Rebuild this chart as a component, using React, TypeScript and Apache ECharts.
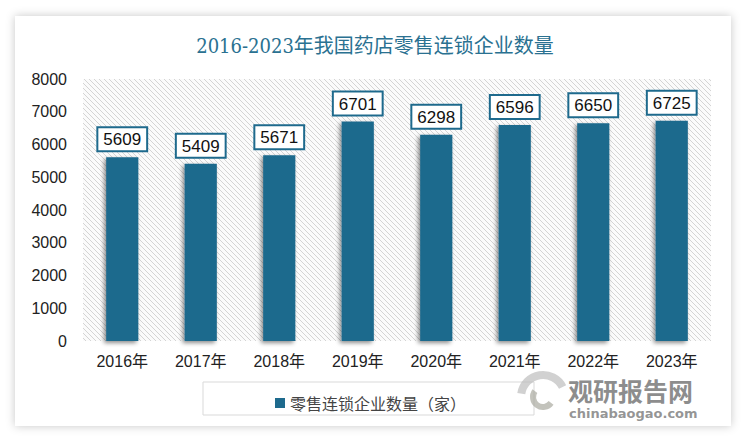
import React, { useEffect, useRef } from "react";
import * as echarts from "echarts";

const title = "2016-2023年我国药店零售连锁企业数量";
const categories = ["2016年", "2017年", "2018年", "2019年", "2020年", "2021年", "2022年", "2023年"];
const seriesName = "零售连锁企业数量（家）";
const values = [5609, 5409, 5671, 6701, 6298, 6596, 6650, 6725];
const yTicks = { min: 0, max: 8000, interval: 1000 };

const BAR = "#1e6a8d";

function makeHatch(): string {
  const c = document.createElement("canvas");
  c.width = 5;
  c.height = 5;
  const ctx = c.getContext("2d")!;
  ctx.fillStyle = "#fbfbfb";
  ctx.fillRect(0, 0, 5, 5);
  ctx.strokeStyle = "#d4d4d4";
  ctx.lineWidth = 1;
  ctx.beginPath();
  ctx.moveTo(-1, -1);
  ctx.lineTo(6, 6);
  ctx.moveTo(-1, 4);
  ctx.lineTo(1, 6);
  ctx.moveTo(4, -1);
  ctx.lineTo(6, 1);
  ctx.stroke();
  return c.toDataURL();
}

export default function App() {
  const ref = useRef<HTMLDivElement>(null);
  useEffect(() => {
    document.body.style.margin = "0";
    const chart = echarts.init(ref.current!, undefined, { renderer: "svg" });
    const hatch = makeHatch();
    chart.setOption({
      animation: false,
      backgroundColor: "#ffffff",
      graphic: [
        {
          type: "rect",
          z: -10,
          shape: { x: 15, y: 16, width: 716, height: 410 },
          style: { fill: "#ffffff", shadowBlur: 10, shadowColor: "rgba(0,0,0,0.22)" },
          silent: true,
        },
        {
          type: "rect",
          z: -5,
          shape: { x: 83, y: 79, width: 628, height: 262 },
          style: { fill: { image: hatch, repeat: "repeat" } as any },
          silent: true,
        },
        {
          type: "rect",
          shape: { x: 203, y: 382, width: 331, height: 33 },
          style: { fill: "none", stroke: "#d9d9d9", lineWidth: 1 },
          silent: true,
        },
        {
          type: "text",
          left: 568,
          top: 377,
          style: {
            text: "观研报告网",
            font: "bold 25px 'Noto Sans CJK SC'",
            lineHeight: 24,
            fill: "rgba(120,120,120,0.85)",
          },
          silent: true,
        },
        {
          type: "text",
          left: 569,
          top: 407,
          style: {
            text: "chinabaogao.com",
            font: "bold 13px 'DejaVu Sans'",
            lineHeight: 13,
            fill: "rgba(130,130,130,0.85)",
          },
          silent: true,
        },
        {
          type: "arc",
          shape: { cx: 543, cy: 397, r: 22, startAngle: Math.PI * 1.05, endAngle: Math.PI * 1.85 },
          style: { stroke: "rgba(190,190,190,0.7)", lineWidth: 8, fill: "none" },
          silent: true,
        },
        {
          type: "arc",
          shape: { cx: 543, cy: 397, r: 10, startAngle: Math.PI * 0.2, endAngle: Math.PI * 1.2 },
          style: { stroke: "rgba(170,170,160,0.7)", lineWidth: 6, fill: "none" },
          silent: true,
        },
      ],
      title: {
        text: title,
        left: "center",
        top: 31,
        textStyle: {
          fontFamily: "'DejaVu Serif Condensed', 'DejaVu Serif', 'Noto Sans CJK SC'",
          fontWeight: "normal",
          fontSize: 20,
          color: "#2a7191",
        },
      },
      legend: {
        data: [seriesName],
        left: 270,
        top: 390,
        icon: "rect",
        itemWidth: 10,
        itemHeight: 10,
        itemGap: 6,
        textStyle: {
          fontFamily: "'Noto Sans CJK SC'",
          fontSize: 16,
          color: "#444",
        },
      },
      grid: { left: 83, top: 79, width: 628, height: 262, containLabel: false },
      xAxis: {
        type: "category",
        data: categories,
        axisLine: { show: false },
        axisTick: { show: false },
        axisLabel: {
          margin: 12,
          fontSize: 16,
          lineHeight: 16,
          color: "#222",
          fontFamily: "'Liberation Sans', 'Noto Sans CJK SC'",
        },
      },
      yAxis: {
        type: "value",
        min: yTicks.min,
        max: yTicks.max,
        interval: yTicks.interval,
        axisLine: { show: false },
        axisTick: { show: false },
        splitLine: { show: false },
        axisLabel: {
          margin: 16,
          fontSize: 16,
          color: "#222",
          fontFamily: "'Liberation Sans', 'Noto Sans'",
          formatter: (v: number) => String(v),
        },
      },
      series: [
        {
          name: seriesName,
          type: "bar",
          data: values,
          barWidth: "41%",
          itemStyle: {
            color: BAR,
            shadowBlur: 4,
            shadowColor: "rgba(0,0,0,0.45)",
            shadowOffsetX: -2,
            shadowOffsetY: 2,
          },
          label: {
            show: true,
            position: "top",
            distance: 7,
            fontSize: 17,
            color: "#111",
            fontFamily: "'Liberation Sans', 'Noto Sans'",
            backgroundColor: "#ffffff",
            borderColor: BAR,
            borderWidth: 2,
            padding: [3, 5, 2, 5],
          },
        },
      ],
    });
    return () => chart.dispose();
  }, []);
  return <div ref={ref} style={{ width: 750, height: 445 }} />;
}
